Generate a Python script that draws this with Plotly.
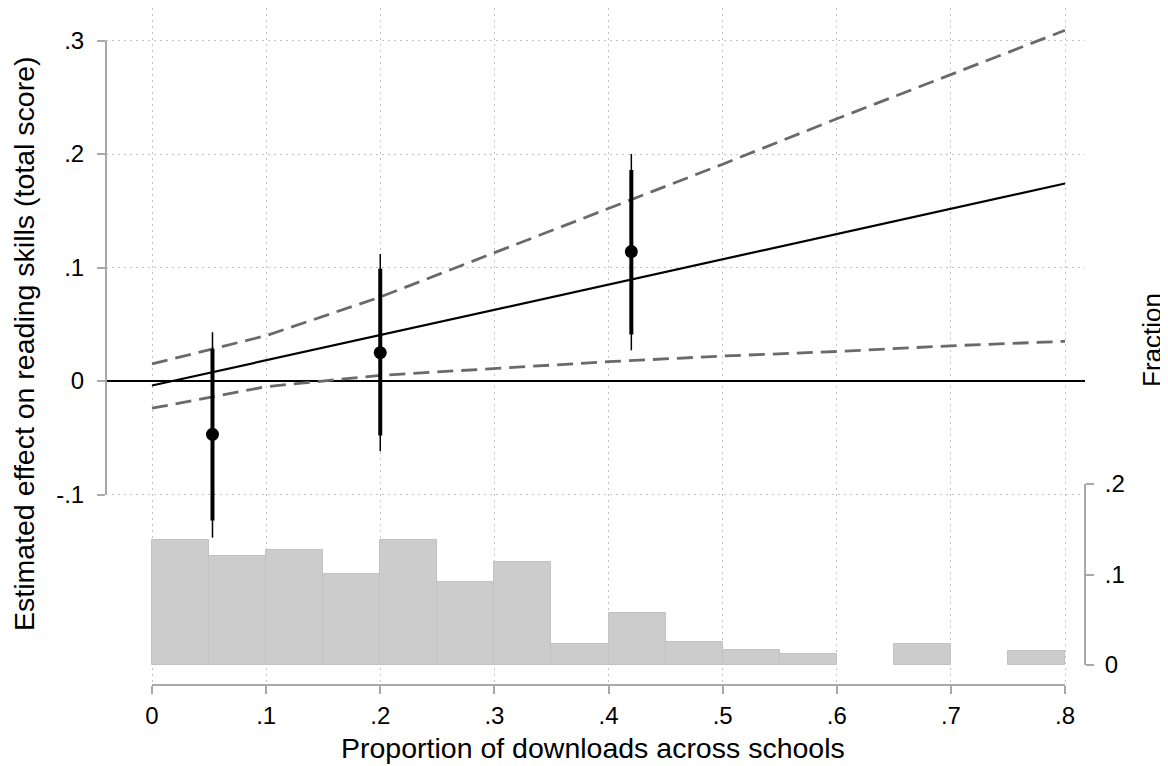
import plotly.graph_objects as go

# ---------------- data ----------------
# binned point estimates (dot) with 90% (thick) and 95% (thin) intervals
pt_x = [0.053, 0.200, 0.420]
pt_y = [-0.047, 0.025, 0.114]
ci90_lo = [-0.123, -0.048, 0.041]
ci90_hi = [0.028, 0.099, 0.186]
ci95_lo = [-0.138, -0.062, 0.027]
ci95_hi = [0.043, 0.112, 0.200]

# linear fit and its confidence band
fit_x = [0.0, 0.8]
fit_y = [-0.004, 0.174]
band_x = [0.0, 0.1, 0.2, 0.3, 0.4, 0.5, 0.6, 0.7, 0.8]
band_hi = [0.015, 0.040, 0.074, 0.113, 0.152, 0.191, 0.231, 0.270, 0.309]
band_lo = [-0.024, -0.005, 0.005, 0.011, 0.017, 0.022, 0.026, 0.031, 0.035]

# histogram of downloads share (fraction per 0.05 bin)
bin_left = [0.00, 0.05, 0.10, 0.15, 0.20, 0.25, 0.30, 0.35,
            0.40, 0.45, 0.50, 0.55, 0.60, 0.65, 0.70, 0.75]
bin_frac = [0.138, 0.121, 0.127, 0.101, 0.138, 0.092, 0.114, 0.023,
            0.057, 0.025, 0.0165, 0.012, 0.0, 0.023, 0.0, 0.015]
bin_width = 0.05

x_ticks = [0, 0.1, 0.2, 0.3, 0.4, 0.5, 0.6, 0.7, 0.8]
x_ticktext = ["0", ".1", ".2", ".3", ".4", ".5", ".6", ".7", ".8"]
y_ticks = [-0.1, 0, 0.1, 0.2, 0.3]
y_ticktext = ["-.1", "0", ".1", ".2", ".3"]
y2_ticks = [0, 0.1, 0.2]
y2_ticktext = ["0", ".1", ".2"]

x_title = "Proportion of downloads across schools"
y_title = "Estimated effect on reading skills (total score)"
y2_title = "Fraction"

# ---------------- figure ----------------
FONT = "Liberation Sans, Arial, Helvetica, sans-serif"
AXIS_GRAY = "#a8a8a8"
GRID = "#c4c4c4"

fig = go.Figure()

# histogram (right axis)
fig.add_trace(go.Bar(
    x=[b + bin_width / 2 for b in bin_left], y=bin_frac, width=bin_width,
    marker=dict(color="#cccccc",
                line=dict(color="#c2c2c2",
                          width=[1 if f > 0 else 0 for f in bin_frac])),
    yaxis="y2", showlegend=False, hoverinfo="skip"))

# confidence band lines
for band in (band_hi, band_lo):
    fig.add_trace(go.Scatter(
        x=band_x, y=band, mode="lines",
        line=dict(color="#6a6a6a", width=2.8, dash="16px,8px"),
        showlegend=False, hoverinfo="skip"))

# fit line
fig.add_trace(go.Scatter(
    x=fit_x, y=fit_y, mode="lines",
    line=dict(color="black", width=2.2), showlegend=False, hoverinfo="skip"))

# error bars
def seg(xs, lo, hi):
    xx, yy = [], []
    for a, l, h in zip(xs, lo, hi):
        xx += [a, a, None]
        yy += [l, h, None]
    return xx, yy

sx, sy = seg(pt_x, ci95_lo, ci95_hi)
fig.add_trace(go.Scatter(x=sx, y=sy, mode="lines",
                         line=dict(color="black", width=1.5),
                         showlegend=False, hoverinfo="skip"))
sx, sy = seg(pt_x, ci90_lo, ci90_hi)
fig.add_trace(go.Scatter(x=sx, y=sy, mode="lines",
                         line=dict(color="black", width=4),
                         showlegend=False, hoverinfo="skip"))
fig.add_trace(go.Scatter(x=pt_x, y=pt_y, mode="markers",
                         marker=dict(color="black", size=13),
                         showlegend=False, hoverinfo="skip"))

# geometry (pixel layout; page body has an 8px margin)
OFF = 8
W, H = 1168 - OFF, 766 - OFF
L, T = 106 - OFF, 8 - OFF
R = W - (1085 - OFF)
B = H - (685 - OFF)
pw, ph = W - L - R, H - T - B
x0_px, x8_px = 152 - OFF, 1065 - OFF
ppu_x = (x8_px - x0_px) / 0.8
x_range = [(L - x0_px) / ppu_x, (W - R - x0_px) / ppu_x]
y0_px, ppu_y = 381 - OFF, 1135
y_range = [(y0_px - (H - B)) / ppu_y, (y0_px - T) / ppu_y]
y2_0px, ppu_y2 = 665 - OFF, 905
y2_range = [(y2_0px - (H - B)) / ppu_y2, (y2_0px - T) / ppu_y2]

tickfont = dict(family=FONT, size=24, color="black")

fig.update_layout(
    width=W, height=H,
    margin=dict(l=L, r=R, t=T, b=B, autoexpand=False),
    paper_bgcolor="white", plot_bgcolor="white",
    bargap=0, font=dict(family=FONT, color="black"),
    xaxis=dict(range=x_range, tickvals=x_ticks, ticktext=x_ticktext,
               showgrid=True, gridcolor=GRID, gridwidth=1, griddash="2px,4px",
               zeroline=False, showline=False,
               ticks="outside", ticklen=8, tickwidth=2, tickcolor=AXIS_GRAY,
               tickfont=tickfont, ticklabelstandoff=1),
    yaxis=dict(range=y_range, tickvals=y_ticks, ticktext=y_ticktext,
               showgrid=True, gridcolor=GRID, gridwidth=1, griddash="2px,4px",
               zeroline=True, zerolinecolor="black", zerolinewidth=1.6,
               showline=False,
               ticks="outside", ticklen=8, tickwidth=2, tickcolor=AXIS_GRAY,
               tickfont=tickfont, ticklabelstandoff=8),
    yaxis2=dict(range=y2_range, tickvals=y2_ticks, ticktext=y2_ticktext,
                overlaying="y", side="right", anchor="x",
                showgrid=False, zeroline=False, showline=False,
                ticks="outside", ticklen=8, tickwidth=2, tickcolor=AXIS_GRAY,
                tickfont=tickfont, ticklabelstandoff=6),
    shapes=[
        dict(type="line", xref="paper", yref="y", x0=0, x1=0,
             y0=min(y_ticks), y1=max(y_ticks),
             line=dict(color=AXIS_GRAY, width=2)),
        dict(type="line", xref="paper", yref="y2", x0=1, x1=1,
             y0=min(y2_ticks), y1=max(y2_ticks),
             line=dict(color=AXIS_GRAY, width=2)),
        dict(type="line", xref="x", yref="paper", x0=min(x_ticks), x1=max(x_ticks),
             y0=0, y1=0, line=dict(color=AXIS_GRAY, width=2)),
    ],
    annotations=[
        dict(text=x_title, xref="paper", yref="paper",
             x=(593 - OFF - L) / pw,
             y=(H - B - (748 - OFF)) / ph, xanchor="center", yanchor="middle",
             showarrow=False, font=dict(family=FONT, size=28.5, color="black")),
        dict(text=y_title, xref="paper", yref="paper", x=(24 - OFF - L) / pw,
             y=(H - B - (344 - OFF)) / ph, xanchor="center", yanchor="middle",
             textangle=-90,
             showarrow=False, font=dict(family=FONT, size=28.5, color="black")),
        dict(text=y2_title, xref="paper", yref="paper", x=(1152 - OFF - L) / pw,
             y=(H - B - (340 - OFF)) / ph, xanchor="center", yanchor="middle",
             textangle=-90,
             showarrow=False, font=dict(family=FONT, size=26, color="black")),
    ],
)

fig.write_html("out.html")
